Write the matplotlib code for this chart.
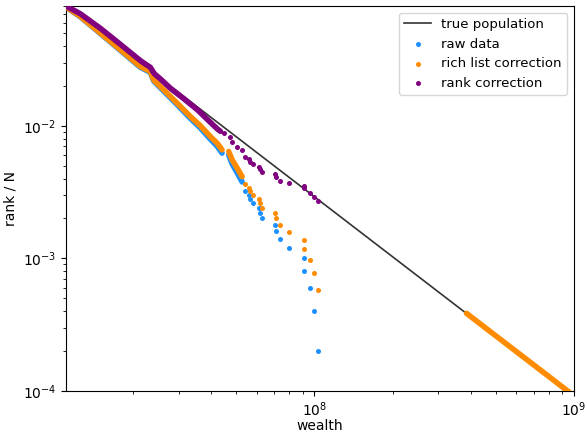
import matplotlib
matplotlib.use("Agg")
import matplotlib.pyplot as plt

# colours of the three samples
RAW_C = "#1e90ff"
RICH_C = "#ff8c00"
RANK_C = "#800080"

# true population (Pareto line)
line_wealth = [1.1e7, 1.0e9]
line_share = [0.080, 9.2e-5]

# top part of the sample: hundreds of overlapping points -> drawn as a band
band_wealth = [1.113e7, 1.249e7, 1.492e7, 1.782e7, 2.13e7, 2.327e7, 2.396e7,
               2.619e7, 2.951e7, 3.32e7, 3.63e7, 3.967e7, 4.21e7, 4.40e7]
raw_band = [0.0773, 0.0664, 0.0497, 0.0371, 0.0276, 0.0253, 0.0218,
            0.0183, 0.01446, 0.01138, 0.00963, 0.00793, 0.00703, 0.00622]
rich_band = [0.0777, 0.0668, 0.0501, 0.0375, 0.0280, 0.0257, 0.0222,
             0.0187, 0.01483, 0.01175, 0.0100, 0.0083, 0.0074, 0.00659]

rank_band_wealth = [1.113e7, 1.249e7, 1.492e7, 1.782e7, 2.13e7, 2.245e7, 2.327e7,
                    2.411e7, 2.543e7, 2.78e7, 3.121e7, 3.535e7, 3.967e7, 4.21e7, 4.336e7]
rank_band = [0.0791, 0.0700, 0.0544, 0.0412, 0.0310, 0.0289, 0.0276,
             0.0247, 0.0226, 0.0192, 0.0161, 0.0132, 0.01062, 0.0095, 0.00909]

# short dense chain after the gap
chain_wealth = [4.668e7, 4.811e7, 5.03e7, 5.258e7]
raw_chain = [0.00603, 0.00517, 0.00443, 0.00377]
rich_chain = [0.00640, 0.00554, 0.00480, 0.00414]

# the richest individual points (rank 16 ... 1)
top_wealth = [5.415e7, 5.61e7, 5.625e7, 5.813e7, 6.13e7, 6.148e7, 6.298e7, 7.028e7,
              7.135e7, 7.345e7, 7.987e7, 9.1e7, 9.15e7, 9.59e7, 9.97e7, 1.03e8]
raw_top = [3.2e-3, 3.0e-3, 2.8e-3, 2.6e-3, 2.4e-3, 2.2e-3, 2.0e-3, 1.8e-3,
           1.6e-3, 1.4e-3, 1.2e-3, 1.0e-3, 8e-4, 6e-4, 4e-4, 2e-4]
rich_top = [3.63e-3, 3.42e-3, 3.22e-3, 3.02e-3, 2.815e-3, 2.61e-3, 2.41e-3, 2.205e-3,
            2.0e-3, 1.795e-3, 1.59e-3, 1.385e-3, 1.185e-3, 9.8e-4, 7.8e-4, 5.75e-4]
rank_top_wealth = [4.465e7, 4.74e7, 4.811e7, 5.03e7, 5.258e7] + top_wealth
rank_top = [8.81e-3, 8.30e-3, 7.61e-3, 6.98e-3, 6.55e-3,
            5.85e-3, 5.6e-3, 5.377e-3, 5.139e-3, 4.929e-3, 4.711e-3, 4.495e-3, 4.319e-3,
            4.143e-3, 3.865e-3, 3.694e-3, 3.525e-3, 3.386e-3, 3.137e-3, 2.926e-3, 2.716e-3]

# rich list entries far in the tail
tail_wealth = [3.86e8, 5.0e8, 6.0e8, 7.0e8, 8.0e8, 9.6e8]
tail_share = [3.85e-4, 2.61e-4, 1.986e-4, 1.576e-4, 1.29e-4, 9.8e-5]

fig = plt.figure(figsize=(5.87, 4.33), dpi=100)
ax = fig.add_axes([0.1124, 0.097, 0.865, 0.889])

ax.plot(line_wealth, line_share, color="#333333", lw=1.2, zorder=1, label="true population")

band_kw = dict(lw=4, solid_capstyle="round", solid_joinstyle="round")
dot_kw = dict(s=13, linewidths=0)

ax.plot(band_wealth, raw_band, color=RAW_C, zorder=2, **band_kw)
ax.plot(chain_wealth, raw_chain, color=RAW_C, zorder=2, **band_kw)
ax.scatter(top_wealth, raw_top, color=RAW_C, zorder=2, label="raw data", **dot_kw)

ax.plot(band_wealth, rich_band, color=RICH_C, zorder=3, **band_kw)
ax.plot(chain_wealth, rich_chain, color=RICH_C, zorder=3, **band_kw)
ax.plot(tail_wealth, tail_share, color=RICH_C, zorder=3, **band_kw)
ax.scatter(top_wealth, rich_top, color=RICH_C, zorder=3, label="rich list correction", **dot_kw)

ax.plot(rank_band_wealth, rank_band, color=RANK_C, zorder=4, **band_kw)
ax.scatter(rank_top_wealth, rank_top, color=RANK_C, zorder=4, label="rank correction", **dot_kw)

ax.set_xscale("log")
ax.set_yscale("log")
ax.set_xlim(1.1e7, 1.0e9)
ax.set_ylim(1e-4, 0.08)
ax.set_xlabel("wealth", labelpad=0)
ax.set_ylabel("rank / N")
ax.legend(loc="upper right", fontsize=9.5)

fig.savefig("out.png", dpi=100)
